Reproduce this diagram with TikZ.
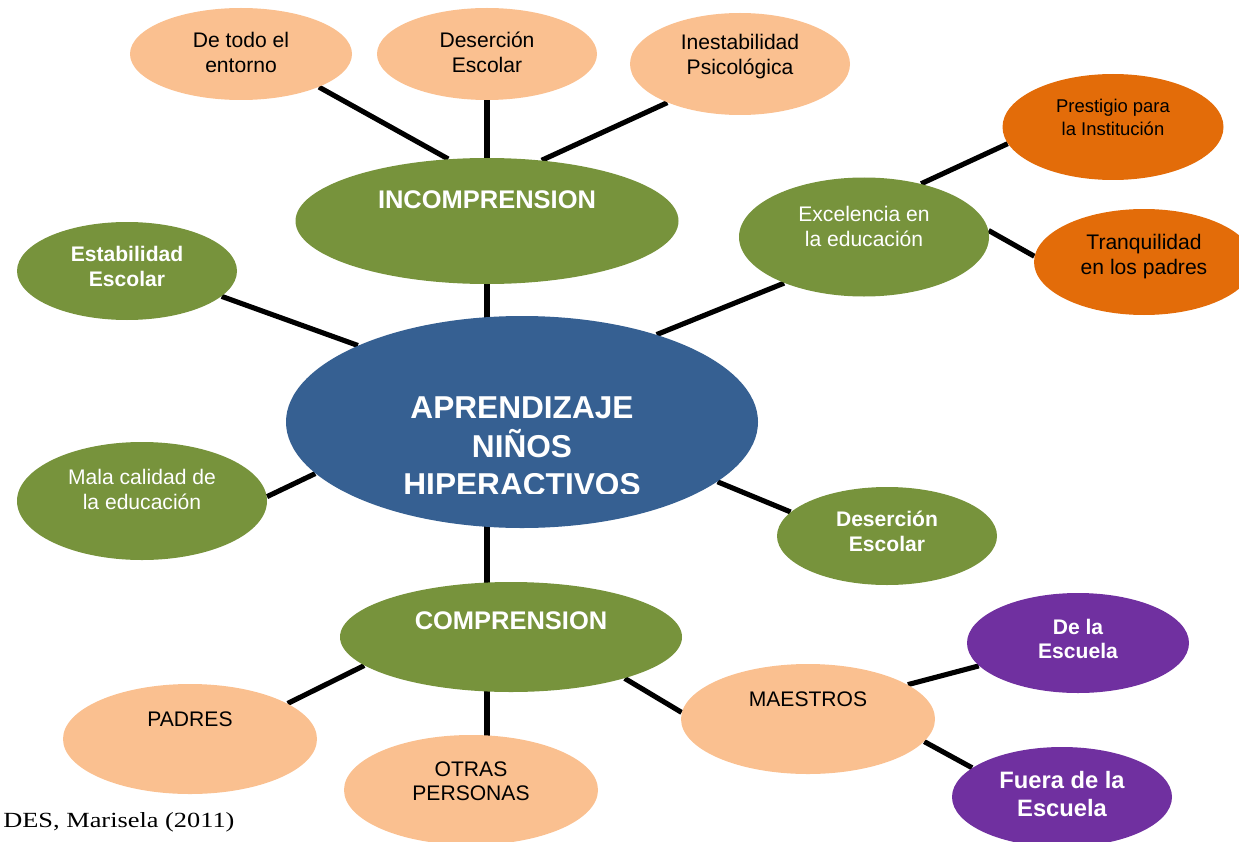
\documentclass[tikz,border=0pt]{standalone}
\usepackage{fontspec}
\setmainfont{Liberation Sans}
\newfontfamily\citefont[FakeStretch=1.22]{Liberation Serif}
\usepackage{trimclip}
\usetikzlibrary{shapes,backgrounds}
\definecolor{peach}{RGB}{250,192,144}
\definecolor{leafgreen}{RGB}{119,147,60}
\definecolor{deepblue}{RGB}{54,96,146}
\definecolor{burnt}{RGB}{227,108,9}
\definecolor{plum}{RGB}{112,48,160}
\newlength{\pxu}
\setlength{\pxu}{0.02cm}
% text block raised by #1 pixels inside its ellipse
\newcommand{\lift}[2]{\raisebox{\dimexpr #1\pxu-.32em\relax}[0pt][0pt]{\begin{tabular}{@{}c@{}}#2\end{tabular}}}

\begin{document}
\begin{tikzpicture}[
    x=0.02cm, y=-0.02cm,
    bubble/.style={ellipse, inner sep=0pt, font=\fontsize{12}{14.2}\selectfont},
    dims/.style 2 args={minimum width=#1*0.02cm, minimum height=#2*0.02cm},
    peachbub/.style={bubble, fill=peach, text=black},
    greenbub/.style={bubble, fill=leafgreen, text=white},
    greenbold/.style={greenbub, font=\fontsize{12}{14.2}\selectfont\bfseries},
    orangebub/.style={bubble, fill=burnt, text=black},
    purplebub/.style={bubble, fill=plum, text=white, font=\fontsize{12}{14.2}\selectfont\bfseries},
    mainbub/.style={bubble, fill=deepblue, text=white, font=\fontsize{18}{20.7}\selectfont\bfseries},
    bigtitle/.style={font=\fontsize{14.5}{17}\selectfont\bfseries},
    link/.style={line width=2.9pt}
]
\useasboundingbox (0,0) rectangle (1239,841);

% ========== INCOMPRENSION BRANCH (TOP) ==========
\node[peachbub, dims={222}{92}] (entorno) at (241,54) {\lift{0}{De todo el\\entorno}};
\node[peachbub, dims={220}{92}] (desertop) at (487,54) {\lift{0}{Deserción\\Escolar}};
\node[peachbub, dims={220}{102}] (inest) at (740,64) {\lift{8.5}{Inestabilidad\\Psicológica}};
\node[greenbub, bigtitle, dims={383}{126}] (incomp) at (487,221) {\lift{20}{INCOMPRENSION}};

% ========== SIDE BRANCHES ==========
\node[greenbold, dims={220}{98}] (estab) at (127,271) {\lift{3.5}{Estabilidad\\Escolar}};
\node[greenbub, dims={250}{119}] (excel) at (864,237) {\lift{9.5}{Excelencia en\\la educación}};
\node[orangebub, font=\fontsize{10.5}{13}\selectfont, dims={221}{106}] (prest) at (1113,127) {\lift{8.5}{Prestigio para\\la Institución}};
\node[orangebub, dims={220}{106}] (tranq) at (1144,262) {\lift{6}{Tranquilidad\\en los padres}};
\node[greenbub, dims={250}{118}] (mala) at (142,501) {\lift{10.5}{Mala calidad de\\la educación}};
\node[greenbold, dims={220}{98}] (desbot) at (887,536) {\lift{3.5}{Deserción\\Escolar}};

% ========== CENTRE ==========
\node[mainbub, dims={472}{212}] (aprend) at (522,422) {\lift{-24}{APRENDIZAJE\\NIÑOS\\\clipbox{0pt 1.3pt 0pt 0pt}{HIPERACTIVOS}}};

% ========== COMPRENSION BRANCH (BOTTOM) ==========
\node[greenbub, bigtitle, dims={342}{110}] (comp) at (511,637) {\lift{15}{COMPRENSION}};
\node[peachbub, dims={254}{110}] (padres) at (190,739) {\lift{19}{PADRES}};
\node[peachbub, dims={254}{110}] (otras) at (471,790) {\lift{8}{OTRAS\\PERSONAS}};
\node[peachbub, dims={254}{110}] (maestros) at (808,719) {\lift{19}{MAESTROS}};
\node[purplebub, dims={222}{100}] (dela) at (1078,643) {\lift{3}{De la\\Escuela}};
\node[purplebub, font=\fontsize{13.5}{15.9}\selectfont\bfseries, dims={220}{100}] (fuera) at (1062,797) {\lift{1}{Fuera de la\\Escuela}};

% source
\node[anchor=base west, inner sep=0pt, font=\citefont\fontsize{12.3}{14}\selectfont] (cite) at (3,827) {DES, Marisela (2011)};

% ========== CONNECTORS ==========
\begin{scope}[on background layer]
\draw[link] (entorno.-23.6) -- (incomp.122.4);
\draw[link] (desertop) -- (incomp);
\draw[link] (inest.208.5) -- (incomp.48.4);
\draw[link] (incomp) -- (incomp |- aprend);
\draw[link] (estab.-15.6) -- (aprend.155.5);
\draw[link] (mala.2) -- (aprend.194.2);
\draw[link] (excel.210.9) -- (aprend.33.6);
\draw[link] (desbot.166.7) -- (aprend.-17.7);
\draw[link] (excel.43) -- (prest.189.9);
\draw[link] (excel.3.2) -- (tranq.177.4);
\draw[link] (incomp |- aprend) -- (incomp |- comp);
\draw[link] (padres.20.2) -- (comp.191.1);
\draw[link] (incomp |- comp) -- (incomp |- otras);
\draw[link] (maestros.177.3) -- (comp.-20.8);
\draw[link] (maestros.19) -- (dela.193.6);
\draw[link] (maestros.-11.4) -- (fuera.162.8);
\end{scope}

\end{tikzpicture}
\end{document}
